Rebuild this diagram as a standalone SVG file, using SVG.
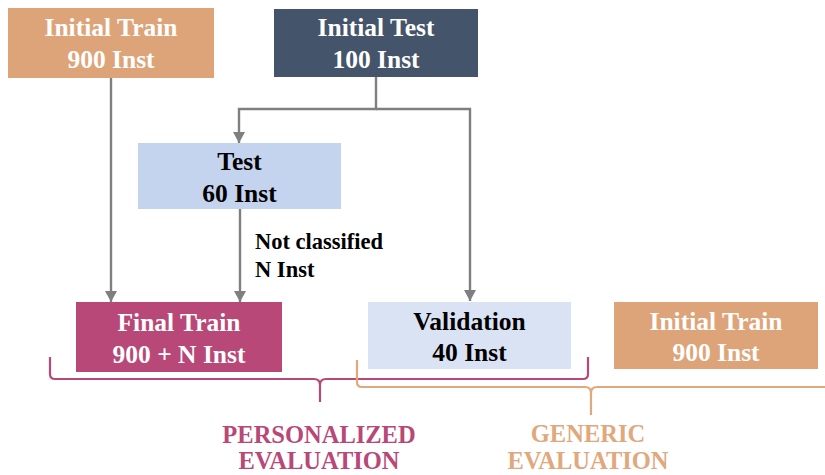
<svg xmlns="http://www.w3.org/2000/svg" width="825" height="475" viewBox="0 0 825 475">
  <defs>
    <marker id="arrow" viewBox="0 0 10 10" refX="10" refY="5" markerWidth="11" markerHeight="12" orient="auto" markerUnits="userSpaceOnUse" preserveAspectRatio="none">
      <path d="M0,0 L10,5 L0,10 z" fill="#7F7F7F"/>
    </marker>
    <style>
      text { font-family: "Liberation Serif", "Times New Roman", serif; font-weight: bold; text-anchor: middle; }
      .box { font-size: 25.5px; }
      .light { fill: #ffffff; }
      .dark { fill: #000000; }
      .conn { fill: none; stroke: #7F7F7F; stroke-width: 2.4; }
      .brace { fill: none; stroke-width: 2.2; }
      .label { font-size: 22.5px; text-anchor: start; fill: #000000; }
      .group { font-size: 24.5px; }
    </style>
  </defs>
  <rect width="825" height="475" fill="#ffffff"/>

  <g id="connectors">
    <path class="conn" d="M111,78 V302" marker-end="url(#arrow)"/>
    <path class="conn" d="M376,77 V109 H239 V143" marker-end="url(#arrow)"/>
    <path class="conn" d="M376,109 H470 V301" marker-end="url(#arrow)"/>
    <path class="conn" d="M240,209 V302" marker-end="url(#arrow)"/>
    <text class="label" x="255" y="249">Not classified</text>
    <text class="label" x="255" y="277">N Inst</text>
  </g>

  <g id="initial-train">
    <rect x="8" y="8" width="206" height="70" fill="#DEA479"/>
    <text class="box light" x="111" y="36">Initial Train</text>
    <text class="box light" x="111" y="68">900 Inst</text>
  </g>

  <g id="initial-test">
    <rect x="274" y="9" width="204" height="68" fill="#44546A"/>
    <text class="box light" x="376" y="36">Initial Test</text>
    <text class="box light" x="376" y="68">100 Inst</text>
  </g>

  <g id="test">
    <rect x="138" y="143" width="203" height="66" fill="#C4D3EE"/>
    <text class="box dark" x="239.5" y="170">Test</text>
    <text class="box dark" x="239.5" y="202">60 Inst</text>
  </g>

  <g id="final-train">
    <rect x="76" y="302" width="206" height="70" fill="#B84878"/>
    <text class="box light" x="179" y="331">Final Train</text>
    <text class="box light" x="179" y="363">900 + N Inst</text>
  </g>

  <g id="validation">
    <rect x="368" y="302" width="203" height="67" fill="#DAE3F3"/>
    <text class="box dark" x="469.5" y="330">Validation</text>
    <text class="box dark" x="469.5" y="361">40 Inst</text>
  </g>

  <g id="initial-train-generic">
    <rect x="614" y="302" width="204" height="67" fill="#DEA479"/>
    <text class="box light" x="716" y="330">Initial Train</text>
    <text class="box light" x="716" y="361">900 Inst</text>
  </g>

  <g id="personalized-evaluation">
    <path class="brace" stroke="#B84878" d="M50,357 V374 Q50,379 55,379 H314 Q320,379 320,385 V402 V385 Q320,379 326,379 H583 Q588,379 588,374 V357"/>
    <text class="group" fill="#B84878" x="319" y="443">PERSONALIZED</text>
    <text class="group" fill="#B84878" x="319" y="469">EVALUATION</text>
  </g>

  <g id="generic-evaluation">
    <path class="brace" stroke="#E0A87C" d="M357,360 V382 Q357,387 362,387 H585 Q591,387 591,393 V415 V393 Q591,387 597,387 H825"/>
    <text class="group" fill="#E0A87C" x="588" y="442">GENERIC</text>
    <text class="group" fill="#E0A87C" x="588" y="469">EVALUATION</text>
  </g>
</svg>
